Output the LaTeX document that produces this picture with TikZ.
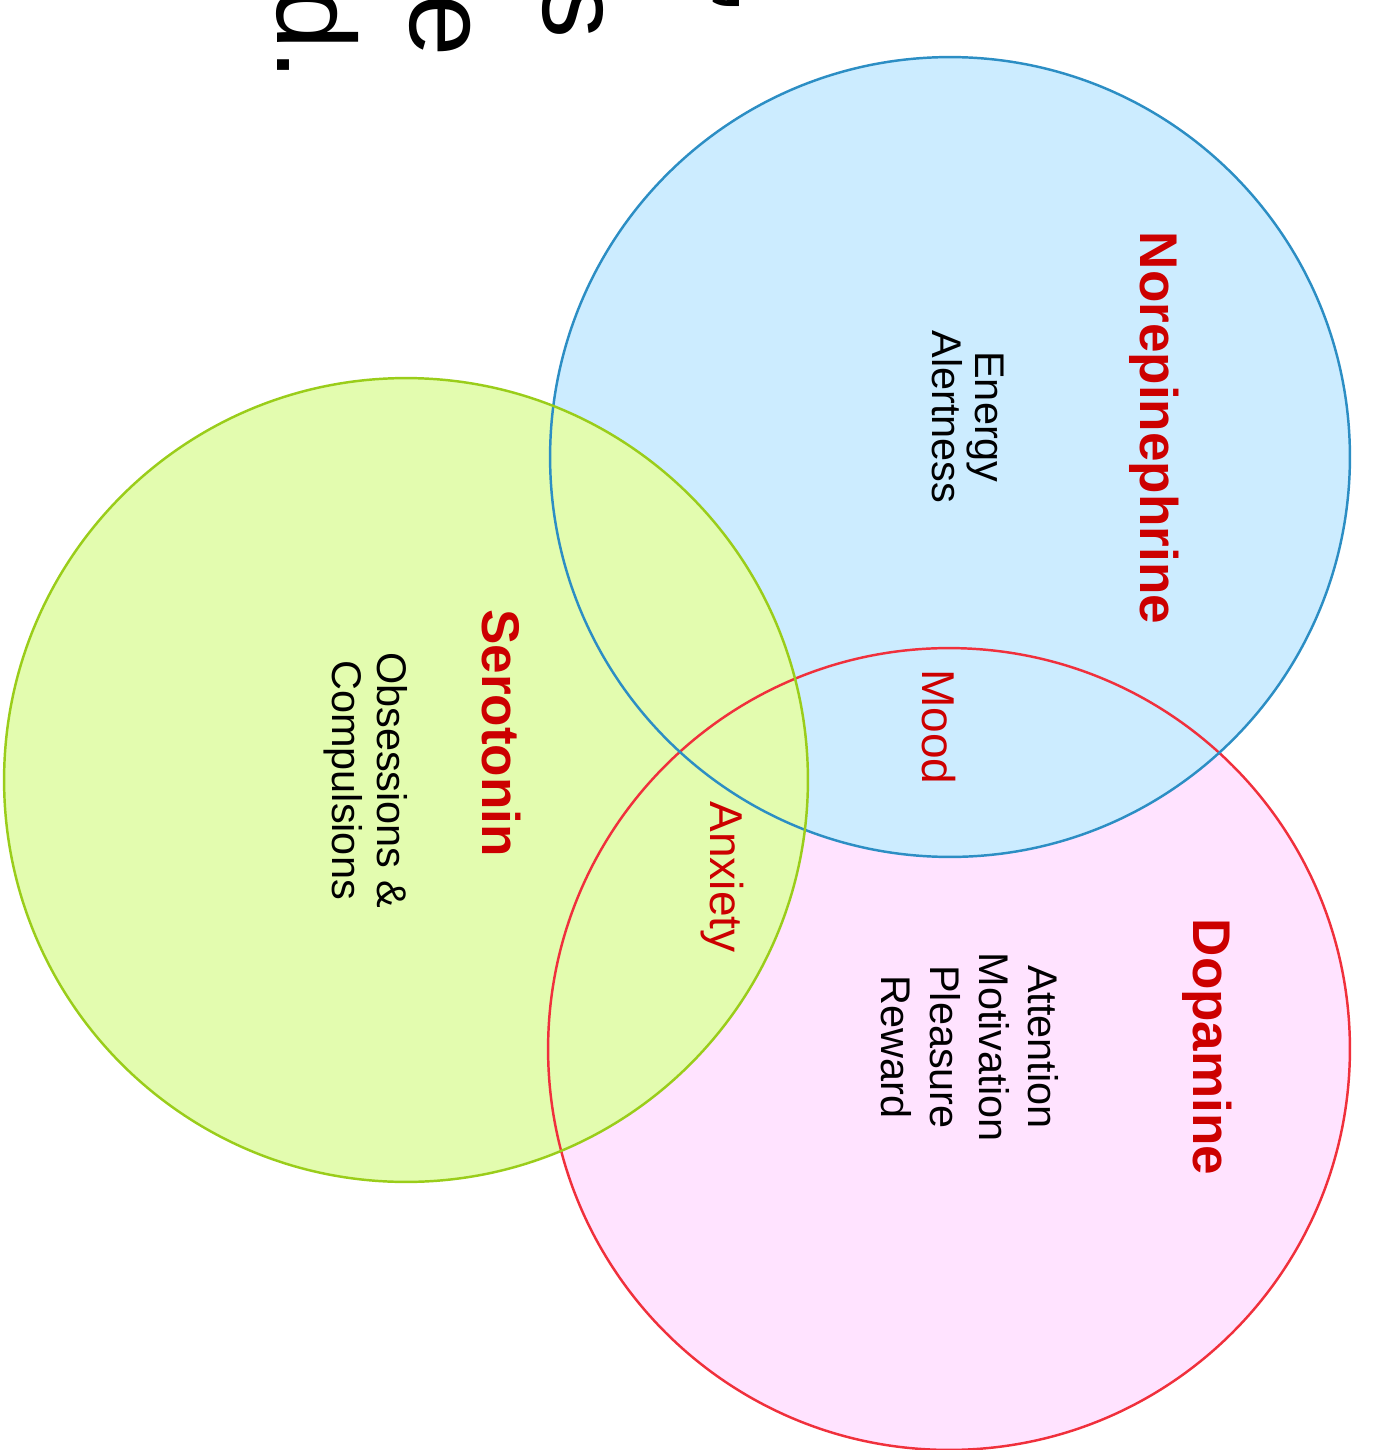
\documentclass[tikz,border=0pt]{standalone}
\usepackage{fontspec}
\setmainfont{Liberation Sans}
\definecolor{norfill}{RGB}{204,236,255}
\definecolor{norline}{RGB}{44,142,196}
\definecolor{serfill}{RGB}{227,252,175}
\definecolor{serline}{RGB}{154,205,26}
\definecolor{dopfill}{RGB}{255,227,255}
\definecolor{dopline}{RGB}{240,48,60}
\definecolor{titred}{RGB}{204,0,0}
\begin{document}
\begin{tikzpicture}[x=0.02cm,y=-0.02cm,
  title/.style={rotate=-90,anchor=base,text=titred,font=\fontsize{30.2}{32}\selectfont\bfseries},
  item/.style={rotate=-90,align=center,font=\fontsize{23.6}{#1}\selectfont},item/.default=24.5,
  both/.style={rotate=-90,anchor=base,text=titred,font=\fontsize{26.2}{28}\selectfont},
  ring/.style={line width=1.4pt}]
\useasboundingbox (0,0) rectangle (1374,1450);
\clip (0,0) rectangle (1374,1450);
% the three sets
\coordinate (nor) at (950,457);
\coordinate (ser) at (406,780);
\coordinate (dop) at (949,1049);
\fill[dopfill] (dop) circle (8.02cm);
\fill[norfill] (nor) circle (8cm);
\fill[serfill] (ser) circle (8.04cm);
\draw[ring,dopline] (dop) circle (8.02cm);
\draw[ring,norline] (nor) circle (8cm);
\draw[ring,serline] (ser) circle (8.04cm);
% names and roles
\node[title] (nortit) at (1140,428) {Norepinephrine};
\node[title] (sertit) at (482,733) {Serotonin};
\node[title] (doptit) at (1193,1047) {Dopamine};
\node[item] (norlist) at (968,417) {Energy\\Alertness};
\node[item=25.6] (serlist) at (366,780) {Obsessions \&\\Compulsions};
\node[item=27.9] (doplist) at (970,1047) {Attention\\Motivation\\Pleasure\\Reward};
\node[both] (mood) at (922,727) {Mood};
\node[both] (anx) at (710,877) {Anxiety};
% cut off text at the top
\foreach \px/\py/\t in {277/87/d., 410/63/e, 543/45/s, 727/23/{,}}
  \node[rotate=-90,anchor=base east,font=\fontsize{63.7}{70}\selectfont] (frag\px) at (\px,\py) {\t};
\end{tikzpicture}
\end{document}
